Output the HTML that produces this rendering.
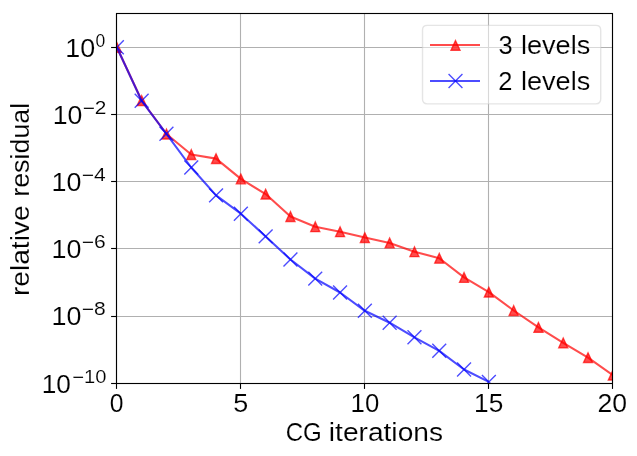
<!DOCTYPE html>
<html><head><meta charset="utf-8"><title>CG convergence</title>
<style>html,body{margin:0;padding:0;background:#fff;}body{width:637px;height:456px;overflow:hidden;font-family:"Liberation Sans",sans-serif;}svg{display:block;will-change:transform;}text{font-family:"Liberation Sans",sans-serif;fill:#000;stroke:#fff;stroke-width:0.12px;font-kerning:none;}</style>
</head><body>
<svg width="637" height="456" viewBox="0 0 637 456">
<rect x="0" y="0" width="637" height="456" fill="#ffffff"/>
<defs><clipPath id="ax"><rect x="116.50" y="13.50" width="496.40" height="370.00"/></clipPath></defs>
<g stroke="#b0b0b0" stroke-width="1.11" fill="none">
<line x1="116.50" y1="13.50" x2="116.50" y2="383.50"/>
<line x1="240.50" y1="13.50" x2="240.50" y2="383.50"/>
<line x1="364.50" y1="13.50" x2="364.50" y2="383.50"/>
<line x1="488.50" y1="13.50" x2="488.50" y2="383.50"/>
<line x1="612.50" y1="13.50" x2="612.50" y2="383.50"/>
<line x1="116.50" y1="47.50" x2="612.50" y2="47.50"/>
<line x1="116.50" y1="114.50" x2="612.50" y2="114.50"/>
<line x1="116.50" y1="181.50" x2="612.50" y2="181.50"/>
<line x1="116.50" y1="248.50" x2="612.50" y2="248.50"/>
<line x1="116.50" y1="316.50" x2="612.50" y2="316.50"/>
<line x1="116.50" y1="383.50" x2="612.50" y2="383.50"/>
</g>
<g clip-path="url(#ax)">
<polyline points="116.85,47.30 141.65,100.50 166.45,134.00 191.25,154.50 216.05,158.60 240.85,178.90 265.65,194.10 290.45,216.50 315.25,226.70 340.05,231.70 364.85,237.60 389.65,242.90 414.45,251.70 439.25,258.20 464.05,277.40 488.85,292.10 513.65,310.50 538.45,327.30 563.25,342.80 588.05,357.60 612.85,375.10" fill="none" stroke="#ff0000" stroke-opacity="0.70" stroke-width="2.08" stroke-linejoin="round" stroke-linecap="butt"/>
<g fill="#ff0000" fill-opacity="0.70" stroke="#ff0000" stroke-opacity="0.70" stroke-width="1.39" stroke-linejoin="miter">
<path d="M116.85 42.55 L112.35 52.25 L121.35 52.25Z"/>
<path d="M141.65 95.75 L137.15 105.45 L146.15 105.45Z"/>
<path d="M166.45 129.25 L161.95 138.95 L170.95 138.95Z"/>
<path d="M191.25 149.75 L186.75 159.45 L195.75 159.45Z"/>
<path d="M216.05 153.85 L211.55 163.55 L220.55 163.55Z"/>
<path d="M240.85 174.15 L236.35 183.85 L245.35 183.85Z"/>
<path d="M265.65 189.35 L261.15 199.05 L270.15 199.05Z"/>
<path d="M290.45 211.75 L285.95 221.45 L294.95 221.45Z"/>
<path d="M315.25 221.95 L310.75 231.65 L319.75 231.65Z"/>
<path d="M340.05 226.95 L335.55 236.65 L344.55 236.65Z"/>
<path d="M364.85 232.85 L360.35 242.55 L369.35 242.55Z"/>
<path d="M389.65 238.15 L385.15 247.85 L394.15 247.85Z"/>
<path d="M414.45 246.95 L409.95 256.65 L418.95 256.65Z"/>
<path d="M439.25 253.45 L434.75 263.15 L443.75 263.15Z"/>
<path d="M464.05 272.65 L459.55 282.35 L468.55 282.35Z"/>
<path d="M488.85 287.35 L484.35 297.05 L493.35 297.05Z"/>
<path d="M513.65 305.75 L509.15 315.45 L518.15 315.45Z"/>
<path d="M538.45 322.55 L533.95 332.25 L542.95 332.25Z"/>
<path d="M563.25 338.05 L558.75 347.75 L567.75 347.75Z"/>
<path d="M588.05 352.85 L583.55 362.55 L592.55 362.55Z"/>
<path d="M612.85 370.35 L608.35 380.05 L617.35 380.05Z"/>
</g>
<polyline points="116.85,47.30 141.65,100.80 166.45,133.80 191.25,167.50 216.05,195.40 240.85,213.70 265.65,236.40 290.45,259.50 315.25,278.60 340.05,292.50 364.85,310.80 389.65,322.70 414.45,337.30 439.25,350.80 464.05,369.50 488.85,381.90" fill="none" stroke="#0000ff" stroke-opacity="0.70" stroke-width="2.08" stroke-linejoin="round" stroke-linecap="butt"/>
<g fill="none" stroke="#0000ff" stroke-opacity="0.70" stroke-width="1.39" stroke-linecap="butt">
<path d="M109.91 54.24 L123.79 40.35 M109.91 40.35 L123.79 54.24"/>
<path d="M134.71 107.75 L148.59 93.85 M134.71 93.85 L148.59 107.75"/>
<path d="M159.50 140.75 L173.39 126.86 M159.50 126.86 L173.39 140.75"/>
<path d="M184.31 174.44 L198.19 160.56 M184.31 160.56 L198.19 174.44"/>
<path d="M209.11 202.34 L223.00 188.46 M209.11 188.46 L223.00 202.34"/>
<path d="M233.91 220.65 L247.79 206.76 M233.91 206.76 L247.79 220.65"/>
<path d="M258.70 243.34 L272.59 229.46 M258.70 229.46 L272.59 243.34"/>
<path d="M283.50 266.44 L297.39 252.56 M283.50 252.56 L297.39 266.44"/>
<path d="M308.31 285.55 L322.19 271.66 M308.31 271.66 L322.19 285.55"/>
<path d="M333.11 299.44 L347.00 285.56 M333.11 285.56 L347.00 299.44"/>
<path d="M357.91 317.75 L371.80 303.86 M357.91 303.86 L371.80 317.75"/>
<path d="M382.70 329.64 L396.59 315.75 M382.70 315.75 L396.59 329.64"/>
<path d="M407.51 344.25 L421.40 330.36 M407.51 330.36 L421.40 344.25"/>
<path d="M432.31 357.75 L446.19 343.86 M432.31 343.86 L446.19 357.75"/>
<path d="M457.10 376.44 L470.99 362.56 M457.10 362.56 L470.99 376.44"/>
<path d="M481.91 388.85 L495.80 374.96 M481.91 374.96 L495.80 388.85"/>
</g>
</g>
<g stroke="#000" stroke-width="1.11" fill="none">
<line x1="116.50" y1="383.50" x2="116.50" y2="388.91"/>
<line x1="240.50" y1="383.50" x2="240.50" y2="388.91"/>
<line x1="364.50" y1="383.50" x2="364.50" y2="388.91"/>
<line x1="488.50" y1="383.50" x2="488.50" y2="388.91"/>
<line x1="612.50" y1="383.50" x2="612.50" y2="388.91"/>
<line x1="116.50" y1="47.50" x2="111.09" y2="47.50"/>
<line x1="116.50" y1="114.50" x2="111.09" y2="114.50"/>
<line x1="116.50" y1="181.50" x2="111.09" y2="181.50"/>
<line x1="116.50" y1="248.50" x2="111.09" y2="248.50"/>
<line x1="116.50" y1="316.50" x2="111.09" y2="316.50"/>
<line x1="116.50" y1="383.50" x2="111.09" y2="383.50"/>
<rect x="116.50" y="13.50" width="496.00" height="370.00"/>
</g>
<text x="109.84" y="411.60" font-size="25.30" text-anchor="start" textLength="13.73" lengthAdjust="spacingAndGlyphs" >0</text>
<text x="233.22" y="411.60" font-size="25.30" text-anchor="start" textLength="15.01" lengthAdjust="spacingAndGlyphs" >5</text>
<text x="350.64" y="411.60" font-size="25.30" text-anchor="start" textLength="28.67" lengthAdjust="spacingAndGlyphs" >10</text>
<text x="474.10" y="411.60" font-size="25.30" text-anchor="start" textLength="29.20" lengthAdjust="spacingAndGlyphs" >15</text>
<text x="597.56" y="411.60" font-size="25.30" text-anchor="start" textLength="29.58" lengthAdjust="spacingAndGlyphs" >20</text>
<text x="65.35" y="56.90" font-size="25.30" text-anchor="start" textLength="29.90" lengthAdjust="spacingAndGlyphs" >10</text>
<text x="95.51" y="47.20" font-size="17.70" text-anchor="start" textLength="9.77" lengthAdjust="spacingAndGlyphs" >0</text>
<text x="52.67" y="123.90" font-size="25.30" text-anchor="start" textLength="29.67" lengthAdjust="spacingAndGlyphs" >10</text>
<text x="82.67" y="114.20" font-size="17.70" text-anchor="start" textLength="23.78" lengthAdjust="spacingAndGlyphs" >−2</text>
<text x="51.55" y="190.90" font-size="25.30" text-anchor="start" textLength="29.90" lengthAdjust="spacingAndGlyphs" >10</text>
<text x="81.86" y="181.20" font-size="17.70" text-anchor="start" textLength="23.95" lengthAdjust="spacingAndGlyphs" >−4</text>
<text x="51.55" y="257.90" font-size="25.30" text-anchor="start" textLength="29.90" lengthAdjust="spacingAndGlyphs" >10</text>
<text x="81.86" y="248.20" font-size="17.70" text-anchor="start" textLength="23.95" lengthAdjust="spacingAndGlyphs" >−6</text>
<text x="51.55" y="324.90" font-size="25.30" text-anchor="start" textLength="29.90" lengthAdjust="spacingAndGlyphs" >10</text>
<text x="81.86" y="315.20" font-size="17.70" text-anchor="start" textLength="23.95" lengthAdjust="spacingAndGlyphs" >−8</text>
<text x="41.65" y="392.90" font-size="25.30" text-anchor="start" textLength="29.17" lengthAdjust="spacingAndGlyphs" >10</text>
<text x="72.21" y="383.20" font-size="17.70" text-anchor="start" textLength="34.18" lengthAdjust="spacingAndGlyphs" >−10</text>
<text x="285.68" y="441.00" font-size="25.30" text-anchor="start" textLength="36.12" lengthAdjust="spacingAndGlyphs" >CG</text>
<text x="328.82" y="441.00" font-size="25.30" text-anchor="start" textLength="114.20" lengthAdjust="spacingAndGlyphs" >iterations</text>
<g transform="translate(28.5,294.2) rotate(-90)">
<text x="-1.87" y="0.00" font-size="25.30" text-anchor="start" textLength="90.72" lengthAdjust="spacingAndGlyphs" >relative</text>
<text x="97.42" y="0.00" font-size="25.30" text-anchor="start" textLength="94.08" lengthAdjust="spacingAndGlyphs" >residual</text>
</g>
<path d="M427.30 25.40 L595.90 25.40 Q600.70 25.40 600.70 30.20 L600.70 99.10 Q600.70 103.90 595.90 103.90 L427.30 103.90 Q422.50 103.90 422.50 99.10 L422.50 30.20 Q422.50 25.40 427.30 25.40Z" fill="#ffffff" fill-opacity="0.5" stroke="#cccccc" stroke-opacity="0.5" stroke-width="1.39"/>
<line x1="430.0" y1="45.00" x2="480.0" y2="45.00" stroke="#ff0000" stroke-opacity="0.70" stroke-width="2.08"/>
<path d="M455.50 40.55 L451.00 50.25 L460.00 50.25Z" fill="#ff0000" fill-opacity="0.70" stroke="#ff0000" stroke-opacity="0.70" stroke-width="1.39"/>
<line x1="430.0" y1="81.00" x2="480.0" y2="81.00" stroke="#0000ff" stroke-opacity="0.70" stroke-width="2.08"/>
<path d="M448.56 87.94 L462.44 74.06 M448.56 74.06 L462.44 87.94" fill="none" stroke="#0000ff" stroke-opacity="0.70" stroke-width="1.39"/>
<text x="498.53" y="53.90" font-size="25.30" text-anchor="start" textLength="14.19" lengthAdjust="spacingAndGlyphs" >3</text>
<text x="520.97" y="53.90" font-size="25.30" text-anchor="start" textLength="69.31" lengthAdjust="spacingAndGlyphs" >levels</text>
<text x="498.22" y="90.00" font-size="25.30" text-anchor="start" textLength="14.16" lengthAdjust="spacingAndGlyphs" >2</text>
<text x="520.97" y="90.00" font-size="25.30" text-anchor="start" textLength="69.31" lengthAdjust="spacingAndGlyphs" >levels</text>
</svg>
</body></html>
